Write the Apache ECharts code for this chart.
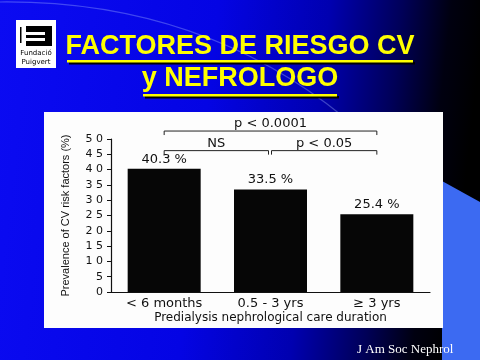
<!DOCTYPE html>
<html>
<head>
<meta charset="utf-8">
<script src="https://cdn.jsdelivr.net/npm/echarts@6/dist/echarts.min.js"></script>
<style>html,body{margin:0;padding:0;background:#0000e0;}#c{width:480px;height:360px;}</style>
</head>
<body>
<div id="c"></div>
<script>
const categories = ['< 6 months', '0.5 - 3 yrs', '≥ 3 yrs'];
const prevalence = [40.3, 33.5, 25.4];
const yTicks = [0, 50, 5];
const bracketFrom = [0, 0, 1];
const bracketTo = [2, 1, 2];
const bracketLevel = [52.6, 46.2, 46.2];
const bracketText = ['p < 0.0001', 'NS', 'p < 0.05'];

const chart = echarts.init(document.getElementById('c'), null, {renderer: 'canvas'});
const chartFont = 'DejaVu Sans';
const ink = '#111';

chart.setOption({
  animation: false,
  backgroundColor: 'transparent',
  graphic: [
    {type: 'rect', z: -20, shape: {x: 0, y: 0, width: 480, height: 360},
     style: {fill: new echarts.graphic.LinearGradient(0, 0, 1, 0.15, [
       {offset: 0, color: '#0b0bf2'},
       {offset: 0.45, color: '#0404e4'},
       {offset: 0.68, color: '#0000b0'},
       {offset: 0.83, color: '#000058'},
       {offset: 0.93, color: '#000010'},
       {offset: 1, color: '#000000'}])}},
    {type: 'bezierCurve', z: -19, shape: {x1: 0, y1: 2, x2: 345, y2: 118, cpx1: 200, cpy1: 0},
     style: {stroke: 'rgba(170,190,255,0.35)', lineWidth: 1.2, fill: null}},
    {type: 'polygon', z: -19, shape: {points: [[442, 181], [480, 202], [480, 360], [442, 360]]},
     style: {fill: '#3c6af2'}},
    {type: 'rect', z: -18, shape: {x: 44, y: 112, width: 399, height: 216}, style: {fill: '#fdfdfd'}},
    // logo
    {type: 'rect', z: -17, shape: {x: 16, y: 20, width: 40, height: 48}, style: {fill: '#ffffff'}},
    {type: 'rect', z: -16, shape: {x: 26, y: 26, width: 26, height: 6}, style: {fill: '#000'}},
    {type: 'rect', z: -16, shape: {x: 45, y: 26, width: 7, height: 16}, style: {fill: '#000'}},
    {type: 'rect', z: -16, shape: {x: 26, y: 35, width: 26, height: 3}, style: {fill: '#000'}},
    {type: 'rect', z: -16, shape: {x: 26, y: 41, width: 26, height: 5}, style: {fill: '#000'}},
    {type: 'rect', z: -16, shape: {x: 20, y: 27, width: 1.5, height: 16}, style: {fill: '#000'}},
    {type: 'text', z: -16, style: {text: 'Fundació', x: 36, y: 53, align: 'center', verticalAlign: 'middle', font: '7px "DejaVu Sans"', fill: '#000'}},
    {type: 'text', z: -16, style: {text: 'Puigvert', x: 36, y: 62, align: 'center', verticalAlign: 'middle', font: '7px "DejaVu Sans"', fill: '#000'}},
    // title
    {type: 'rect', z: -15, shape: {x: 69, y: 62, width: 346, height: 2.5}, style: {fill: '#000'}},
    {type: 'rect', z: -14, shape: {x: 67, y: 60, width: 346, height: 2.5}, style: {fill: '#ffff00'}},
    {type: 'rect', z: -15, shape: {x: 145, y: 96, width: 194, height: 2.5}, style: {fill: '#000'}},
    {type: 'rect', z: -14, shape: {x: 143, y: 94, width: 194, height: 2.5}, style: {fill: '#ffff00'}},
    {type: 'text', z: -14, style: {text: 'FACTORES DE RIESGO CV', x: 240, y: 47, align: 'center', verticalAlign: 'middle',
      font: 'bold 27px "Liberation Sans"', fill: '#ffff00', textShadowColor: '#000', textShadowOffsetX: 2, textShadowOffsetY: 2, textShadowBlur: 0}},
    {type: 'text', z: -14, style: {text: 'y NEFROLOGO', x: 240, y: 79, align: 'center', verticalAlign: 'middle',
      font: 'bold 27px "Liberation Sans"', fill: '#ffff00', textShadowColor: '#000', textShadowOffsetX: 2, textShadowOffsetY: 2, textShadowBlur: 0}},
    {type: 'text', z: -14, style: {text: 'J Am Soc Nephrol', x: 357, y: 350, align: 'left', verticalAlign: 'middle',
      font: '13px "Liberation Serif"', fill: '#ffffff'}}
  ],
  grid: {left: 111, right: 50, top: 139, bottom: 68, containLabel: false},
  xAxis: {
    type: 'category', data: categories, boundaryGap: true,
    axisLine: {lineStyle: {color: ink, width: 1.2}},
    axisTick: {show: false},
    axisLabel: {color: ink, fontFamily: chartFont, fontSize: 13, margin: 5},
    name: 'Predialysis nephrological care duration', nameLocation: 'middle', nameGap: 20,
    nameTextStyle: {color: ink, fontFamily: chartFont, fontSize: 12}
  },
  yAxis: {
    type: 'value', min: yTicks[0], max: yTicks[1], interval: yTicks[2],
    axisLine: {show: true, lineStyle: {color: ink, width: 1.2}},
    axisTick: {show: true, length: 4, lineStyle: {color: ink}},
    splitLine: {show: false},
    axisLabel: {color: ink, fontFamily: chartFont, fontSize: 11, margin: 8,
      formatter: v => String(v).split('').join(' ')},
    name: 'Prevalence of CV risk factors (%)', nameLocation: 'middle', nameGap: 40,
    nameTextStyle: {color: ink, fontFamily: 'Liberation Sans', fontSize: 11}
  },
  series: [
    {type: 'bar', data: prevalence, barWidth: 73, itemStyle: {color: '#060606'},
     label: {show: true, position: 'top', distance: 3, formatter: '{c} %', color: ink, fontFamily: chartFont, fontSize: 13}},
    {type: 'custom', clip: false, encode: {x: 0, y: 2},
     data: bracketFrom.map((f, i) => [f, bracketTo[i], bracketLevel[i]]),
     renderItem: function (params, api) {
       const i = params.dataIndex;
       const a = api.coord([api.value(0), api.value(2)]);
       const b = api.coord([api.value(1), api.value(2)]);
       let x1 = a[0], x2 = b[0];
       if (bracketFrom[i] === 1) x1 += 1;
       if (bracketTo[i] === 1) x2 -= 2;
       const y = a[1];
       return {type: 'group', children: [
         {type: 'polyline', shape: {points: [[x1, y + 4], [x1, y], [x2, y], [x2, y + 4]]},
          style: {stroke: '#222', lineWidth: 1, fill: null}},
         {type: 'text', style: {text: bracketText[i], x: (x1 + x2) / 2, y: y - 7, align: 'center', verticalAlign: 'middle',
          font: '13px "DejaVu Sans"', fill: ink}}
       ]};
     }}
  ]
});
</script>
</body>
</html>
